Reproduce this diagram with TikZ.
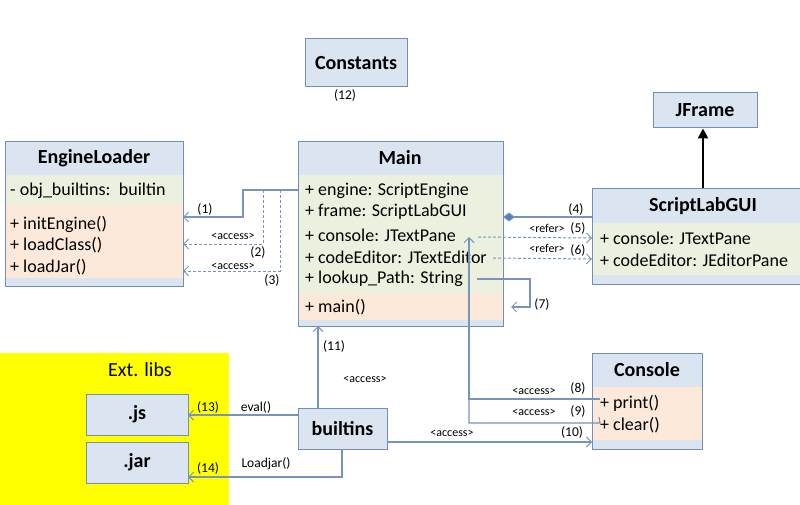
\documentclass[tikz,border=0pt]{standalone}
\usepackage{fontspec}
\setmainfont{Carlito}
\usetikzlibrary{arrows.meta}
\definecolor{bd}{HTML}{7090B8}
\definecolor{ln}{HTML}{7894BA}
\definecolor{hd}{HTML}{DBE5F1}
\definecolor{gr}{HTML}{EBF1DE}
\definecolor{pc}{HTML}{FDE9D9}
\definecolor{dm}{HTML}{4F81BD}
\definecolor{yl}{HTML}{FFFF00}
\begin{document}
\begin{tikzpicture}[x=1pt,y=-1pt,
  box/.style={draw=bd,line width=1pt,inner sep=0pt},
  ttl/.style={font=\fontsize{20}{22}\selectfont\bfseries,text=black},
  row/.style={anchor=west,inner sep=0pt,font=\fontsize{18}{20}\selectfont},
  lbl/.style={inner sep=0pt,font=\fontsize{13.5}{15}\selectfont},
  sml/.style={inner sep=0pt,font=\fontsize{12}{13}\selectfont},
  con/.style={draw=ln,line width=1.1pt},
  dsh/.style={draw=ln,line width=1pt,dash pattern=on 3pt off 2pt},
  oa/.style={-{Straight Barb[length=5pt,width=10pt,line width=0.9pt]}},
]
\useasboundingbox (0,0) rectangle (800,505);
% yellow region
\fill[yl] (0,353) rectangle (229,505);
\node[font=\fontsize{20}{22}\selectfont] (extl) at (140,370) {Ext. libs};

% EngineLoader
\fill[hd] (5,142) rectangle (183,286);
\fill[gr] (5,175) rectangle (183,205);
\fill[pc] (5,205) rectangle (183,278);
\node[box,minimum width=178pt,minimum height=144pt] (el) at (94,214) {};
\node[ttl] (elt) at (94,158) {EngineLoader};
\node[row] (ela) at (10,191) {- obj\_builtins:\, builtin};
\node[row] (elm1) at (10,224) {+ initEngine()};
\node[row] (elm2) at (10,245) {+ loadClass()};
\node[row] (elm3) at (10,267) {+ loadJar()};

% Constants
\node[box,fill=hd,minimum width=102pt,minimum height=48pt] (cst) at (356,63) {};
\node[ttl] (cstt) at (356,63) {Constants};
\node[lbl] (l12) at (345,96) {(12)};

% Main
\fill[hd] (298,142) rectangle (503,326);
\fill[gr] (298,175) rectangle (503,293);
\fill[pc] (298,293) rectangle (503,320);
\node[box,minimum width=205pt,minimum height=184pt] (main) at (400.5,234) {};
\node[ttl] (maint) at (400,158) {Main};
\node[row] (m1) at (305,191) {+ engine: ScriptEngine};
\node[row] (m2) at (305,212) {+ frame: ScriptLabGUI};
\node[row] (m3) at (305,235) {+ console: JTextPane};
\node[row] (m4) at (305,257) {+ codeEditor: JTextEditor};
\node[row] (m5) at (305,279) {+ lookup\_Path: String};
\node[row] (m6) at (305,307) {+ main()};

% JFrame
\node[box,fill=hd,minimum width=104pt,minimum height=35pt] (jf) at (705,110.5) {};
\node[ttl] (jft) at (705,110.5) {JFrame};

% ScriptLabGUI
\fill[hd] (592,189) rectangle (815,284);
\fill[gr] (592,223) rectangle (815,275);
\node[box,minimum width=223pt,minimum height=95pt] (sg) at (703.5,236.5) {};
\node[ttl] (sgt) at (703,206) {ScriptLabGUI};
\node[row] (s1) at (600,238) {+ console: JTextPane};
\node[row] (s2) at (600,260) {+ codeEditor: JEditorPane};

% Console
\fill[hd] (592,353) rectangle (702,449);
\fill[pc] (592,387) rectangle (702,440);
\node[box,minimum width=110pt,minimum height=96pt] (cn) at (647,401) {};
\node[ttl] (cnt) at (647,370) {Console};
\node[row] (c1) at (600,403) {+ print()};
\node[row] (c2) at (600,425) {+ clear()};

% builtins
\node[box,fill=hd,minimum width=89pt,minimum height=41pt] (bi) at (342.5,428.5) {};
\node[ttl] (bit) at (342.5,428.5) {builtins};

% .js / .jar
\node[box,fill=hd,minimum width=102pt,minimum height=41pt] (js) at (137,414.5) {};
\node[ttl] (jst) at (137,414.5) {.js};
\node[box,fill=hd,minimum width=102pt,minimum height=41pt] (jar) at (137,462.5) {};
\node[ttl] (jart) at (137,462.5) {.jar};

% coordinates
\coordinate (pEng) at (298,190);
\coordinate (e1) at (183,217);
\coordinate (e2) at (183,244);
\coordinate (e3) at (183,271);
\coordinate (mR4) at (503,217);
\coordinate (sL4) at (592,217);
\coordinate (m5s) at (478,237);
\coordinate (s5) at (592,238);
\coordinate (m6s) at (493,258);
\coordinate (s6) at (592,259);
\coordinate (m7s) at (477,279);
\coordinate (m7e) at (511,307);
\coordinate (c8) at (600,399);
\coordinate (c9) at (600,423);
\coordinate (m8) at (469,237);
\coordinate (b10) at (387,442);
\coordinate (cn10) at (592,442);
\coordinate (b11) at (318,408);
\coordinate (m11) at (318,326);
\coordinate (b13) at (298,415);
\coordinate (js13) at (188,415);
\coordinate (b14) at (342,449);
\coordinate (jar14) at (188,477);

% (1)-(3)
\draw[con,line width=1.8pt,oa] (pEng) -- (243,190) -- (243,217) -- (e1);
\draw[dsh,oa] (263,190) -- (263,244) -- (e2);
\draw[dsh,oa] (280,190) -- (280,271) -- (e3);
\node[lbl] (l1) at (205,209) {(1)};
\node[sml] (a2) at (233,236) {<access>};
\node[lbl] (l2) at (258,252) {(2)};
\node[sml] (a3) at (233,266) {<access>};
\node[lbl] (l3) at (272,280) {(3)};

% (4) composition
\draw[con,-{Diamond[length=12pt,width=9pt,fill=dm]}] (sL4) -- (mR4);
\node[lbl] (l4) at (576,209) {(4)};

% (5) (6)
\draw[dsh,oa] (m5s) -- (s5);
\draw[dsh,oa] (m6s) -- (s6);
\node[sml] (r5) at (547,228) {<refer>};
\node[lbl] (l5) at (578,228) {(5)};
\node[sml] (r6) at (547,248) {<refer>};
\node[lbl] (l6) at (578,250) {(6)};

% (7) self
\draw[con,oa] (m7s) -- (530,279) -- (530,307) -- (m7e);
\node[lbl] (l7) at (542,304) {(7)};

% (8) (9)
\draw[con,oa] (c8) -- (469,399) -- (m8);
\draw[con] (599,417) -- (c9) -- (469,423) -- (469,399);
\node[sml] (a8) at (534,391) {<access>};
\node[lbl] (l8) at (578,388) {(8)};
\node[sml] (a9) at (534,412) {<access>};
\node[lbl] (l9) at (578,411) {(9)};

% (10)
\draw[con,oa] (b10) -- (cn10);
\node[sml] (a10) at (452,433) {<access>};
\node[lbl] (l10) at (572,432) {(10)};

% (11)
\draw[con,oa] (b11) -- (m11);
\node[lbl] (l11) at (334,346) {(11)};
\node[sml] (a11) at (365,379) {<access>};

% (13) (14)
\draw[con,oa] (b13) -- (js13);
\node[lbl] (l13) at (208,407) {(13)};
\node[lbl] (ev) at (256,407) {eval()};
\draw[con,oa] (b14) -- (342,477) -- (jar14);
\node[lbl] (l14) at (208,468) {(14)};
\node[lbl] (ld) at (266,464) {Loadjar()};

% JFrame inheritance
\draw[black,line width=2.5pt,-{Triangle[length=10pt,width=10pt]}] (sg.north -| jf.south) ++(-2,0) coordinate (sgtop) -- (sgtop |- jf.south);
\end{tikzpicture}
\end{document}
